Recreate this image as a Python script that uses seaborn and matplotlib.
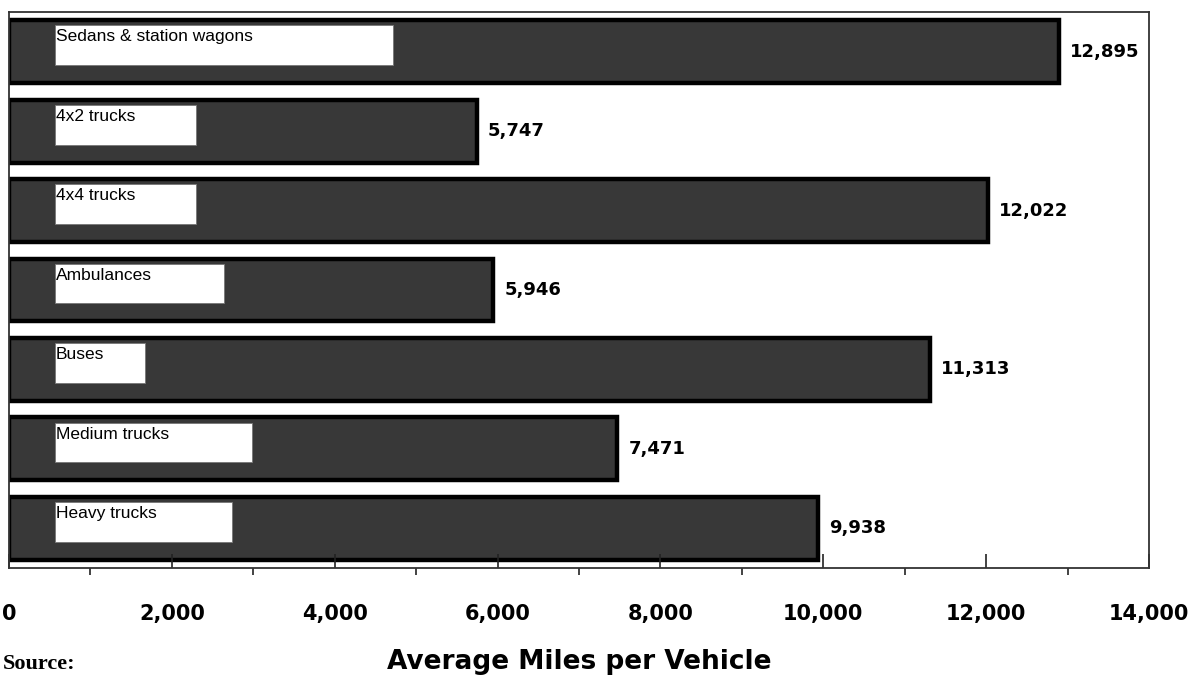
import pandas as pd
import seaborn as sns
import matplotlib.pyplot as plt
from matplotlib.patches import Rectangle
from matplotlib.ticker import MultipleLocator, FuncFormatter

vehicles = ["Sedans & station wagons", "4x2 trucks", "4x4 trucks", "Ambulances",
            "Buses", "Medium trucks", "Heavy trucks"]
miles = [12895, 5747, 12022, 5946, 11313, 7471, 9938]
# right edge of the white name box behind each label (miles axis units)
box_ends = [4716, 2297, 2297, 2640, 1670, 2984, 2739]

df = pd.DataFrame({"Vehicle": vehicles, "Miles": miles})

sns.set_style("white")
plt.rcParams["font.family"] = ["DejaVu Sans"]

fig = plt.figure(figsize=(12, 6.77), dpi=100)
ax = fig.add_axes([0.0075, 0.161, 0.95, 0.8213])

sns.barplot(data=df, x="Miles", y="Vehicle", orient="h", color="#383838",
            saturation=1, edgecolor="black", linewidth=3.2, width=0.79, ax=ax)

ax.set_xlim(0, 14000)
ax.set_ylim(6.5, -0.5)
ax.set_axisbelow(False)

# name boxes and value labels
for bar, name, end, val in zip(ax.patches, vehicles, box_ends, miles):
    yc = bar.get_y() + bar.get_height() / 2
    top = yc - 0.33
    ax.add_patch(Rectangle((565, top), end - 565, 0.50, facecolor="white",
                           edgecolor="#777777", linewidth=0.6, zorder=3))
    ax.text(575, top + 0.05, name, ha="left", va="top", fontsize=12.5,
            family="Liberation Sans", color="black", zorder=4)
    ax.annotate(f"{val:,}", xy=(val, yc), xytext=(8, 0), textcoords="offset points",
                ha="left", va="center", fontsize=13, fontweight="bold",
                family="DejaVu Sans", color="black")

ax.xaxis.set_major_locator(MultipleLocator(2000))
ax.xaxis.set_minor_locator(MultipleLocator(1000))
ax.xaxis.set_major_formatter(FuncFormatter(lambda v, p: f"{int(v):,}"))
ax.tick_params(axis="x", which="both", bottom=True, top=False)
ax.tick_params(axis="x", which="major", direction="in", length=10, width=1.2,
               color="#222222", pad=26, labelsize=15, labelcolor="black")
ax.tick_params(axis="x", which="minor", direction="out", length=5, width=1.2,
               color="#222222")
for lbl in ax.get_xticklabels():
    lbl.set_fontweight("bold")
ax.set_yticks([])
ax.set_ylabel("")
ax.set_xlabel("Average Miles per Vehicle", fontsize=19, fontweight="bold",
              labelpad=18, color="black")

for side in ["left", "right", "top", "bottom"]:
    ax.spines[side].set_visible(True)
    ax.spines[side].set_color("#333333")
    ax.spines[side].set_linewidth(1.3)
    ax.spines[side].set_zorder(5)

fig.text(0.002, 0.004, "Source:", fontsize=16, fontweight="bold",
         family="Liberation Serif", ha="left", va="bottom", color="black")

fig.savefig("out.png", dpi=100)
